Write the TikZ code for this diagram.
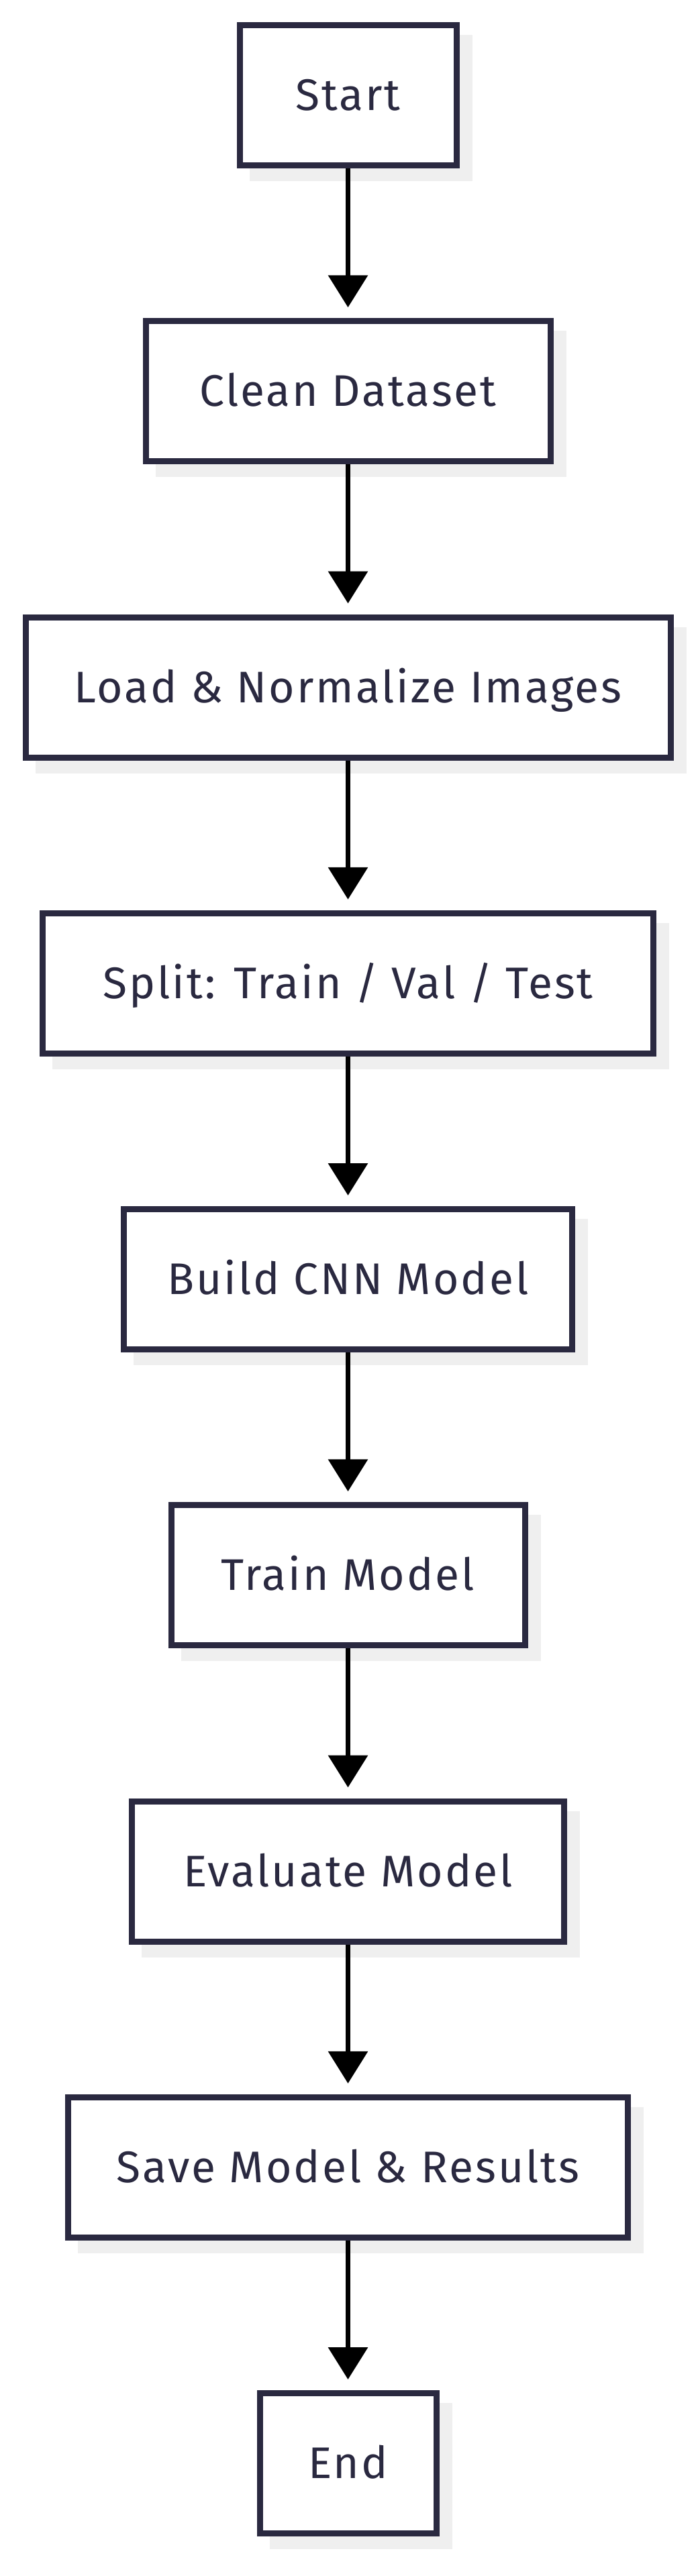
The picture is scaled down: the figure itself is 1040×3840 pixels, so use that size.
\documentclass[tikz,border=0pt]{standalone}
\usepackage{fontspec}
\setmainfont[LetterSpace=4.5]{Fira Sans}
\usetikzlibrary{arrows.meta,shadows}
\definecolor{ink}{HTML}{2A2940}
\definecolor{shade}{HTML}{EFEFEF}
\begin{document}
\begin{tikzpicture}[x=1pt,y=-1pt,
  box/.style={draw=ink, line width=9pt, fill=white, text=ink,
    font=\fontsize{66}{70}\selectfont, minimum height=209pt,
    text height=45pt, text depth=0pt, inner sep=0pt,
    general shadow={draw=shade, fill=shade, line width=9pt,
      shadow xshift=19pt, shadow yshift=-19pt}},
  flow/.style={draw=black, line width=7pt,
    -{Triangle[length=48pt,width=58pt]}, shorten >=16pt}]
\fill[white] (0,0) rectangle (1040,3840);
\useasboundingbox (0,0) rectangle (1040,3840);
\node[box, minimum width=323pt] (start) at (518.5,142)    {Start};
\node[box, minimum width=603pt] (clean) at (518.5,583.25) {Clean Dataset};
\node[box, minimum width=961pt] (load)  at (518.5,1024.5) {Load \& Normalize Images};
\node[box, minimum width=910pt] (split) at (518.5,1465.75) {Split: Train / Val / Test};
\node[box, minimum width=668pt] (build) at (518.5,1907)   {Build CNN Model};
\node[box, minimum width=527pt] (train) at (518.5,2348.25) {Train Model};
\node[box, minimum width=644pt] (eval)  at (518.5,2789.5) {Evaluate Model};
\node[box, minimum width=834pt] (save)  at (518.5,3230.75) {Save Model \& Results};
\node[box, minimum width=263pt] (end)   at (518.5,3672)   {End};
\draw[flow] (start) -- (clean);
\draw[flow] (clean) -- (load);
\draw[flow] (load) -- (split);
\draw[flow] (split) -- (build);
\draw[flow] (build) -- (train);
\draw[flow] (train) -- (eval);
\draw[flow] (eval) -- (save);
\draw[flow] (save) -- (end);
\end{tikzpicture}
\end{document}
